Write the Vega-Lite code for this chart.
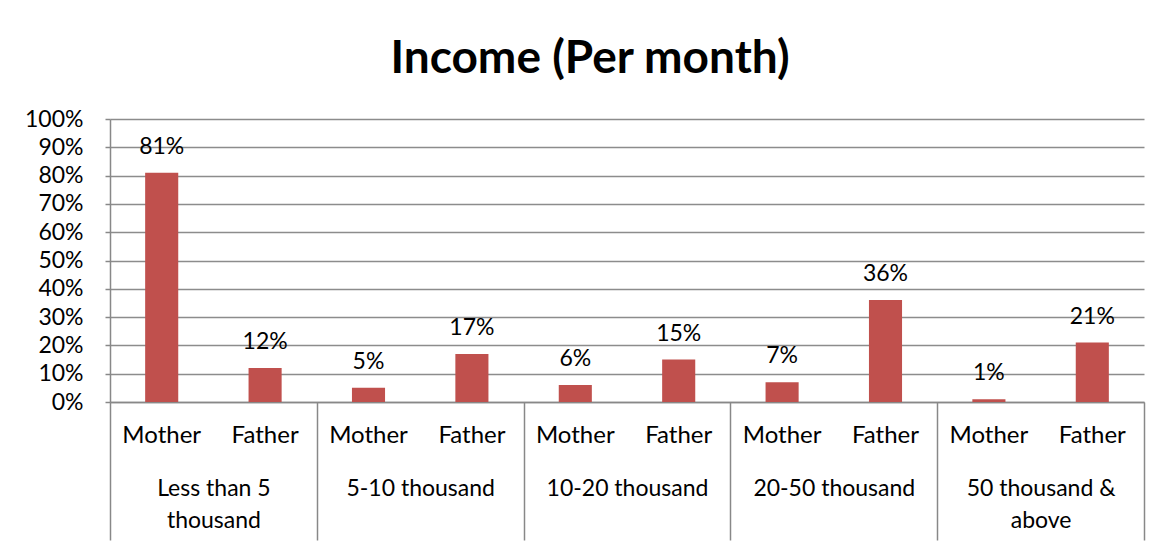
{
  "$schema": "https://vega.github.io/schema/vega-lite/v6.json",
  "width": 1034,
  "height": 283,
  "autosize": {"type": "none"},
  "padding": {"left": 110, "top": 119, "right": 24, "bottom": 142},
  "background": "white",
  "config": {
    "font": "Lato",
    "view": {"stroke": null},
    "axis": {"labelFont": "Lato", "labelColor": "black", "labelFontSize": 23}
  },
  "title": {
    "text": "Income (Per month)",
    "font": "Lato",
    "fontSize": 46,
    "fontWeight": "bold",
    "color": "black",
    "anchor": "middle",
    "baseline": "alphabetic",
    "dx": -37,
    "dy": 43,
    "offset": 32
  },
  "data": {
    "values": [
      {"group": "Less than 5 thousand", "person": "Mother", "value": 0.81},
      {"group": "Less than 5 thousand", "person": "Father", "value": 0.12},
      {"group": "5-10 thousand", "person": "Mother", "value": 0.05},
      {"group": "5-10 thousand", "person": "Father", "value": 0.17},
      {"group": "10-20 thousand", "person": "Mother", "value": 0.06},
      {"group": "10-20 thousand", "person": "Father", "value": 0.15},
      {"group": "20-50 thousand", "person": "Mother", "value": 0.07},
      {"group": "20-50 thousand", "person": "Father", "value": 0.36},
      {"group": "50 thousand & above", "person": "Mother", "value": 0.01},
      {"group": "50 thousand & above", "person": "Father", "value": 0.21}
    ]
  },
  "encoding": {
    "x": {
      "field": "group",
      "type": "nominal",
      "sort": null,
      "scale": {"paddingInner": 0, "paddingOuter": 0},
      "axis": {
        "title": null,
        "labelAngle": 0,
        "tickBand": "extent",
        "tickSize": 138,
        "tickColor": "#888888",
        "tickWidth": 1.5,
        "domainColor": "#888888",
        "domainWidth": 1.5,
        "labelPadding": -63,
        "labelLineHeight": 32,
        "labelExpr": "datum.label == 'Less than 5 thousand' ? ['Less than 5', 'thousand'] : datum.label == '50 thousand & above' ? ['50 thousand &', 'above'] : datum.label"
      }
    },
    "xOffset": {
      "field": "person",
      "type": "nominal",
      "sort": null,
      "scale": {"paddingInner": 0.68, "paddingOuter": 0.34}
    },
    "y": {
      "field": "value",
      "type": "quantitative",
      "scale": {"domain": [0, 1]},
      "axis": {
        "title": null,
        "format": ".0%",
        "values": [0, 0.1, 0.2, 0.3, 0.4, 0.5, 0.6, 0.7, 0.8, 0.9, 1],
        "labelOverlap": false,
        "grid": true,
        "gridColor": "#8c8c8c",
        "gridWidth": 1.5,
        "domainColor": "#888888",
        "domainWidth": 1.5,
        "tickColor": "#888888",
        "tickWidth": 1.5,
        "tickSize": 5,
        "labelPadding": 22
      }
    }
  },
  "layer": [
    {
      "mark": {"type": "bar", "color": "#C0504D"}
    },
    {
      "mark": {"type": "text", "fontSize": 23, "color": "black", "baseline": "middle", "dy": -26},
      "encoding": {
        "text": {"field": "value", "type": "quantitative", "format": ".0%"}
      }
    },
    {
      "mark": {"type": "text", "fontSize": 24, "color": "black", "baseline": "middle"},
      "encoding": {
        "y": {"datum": -0.12, "type": "quantitative"},
        "text": {"field": "person", "type": "nominal"}
      }
    }
  ]
}
